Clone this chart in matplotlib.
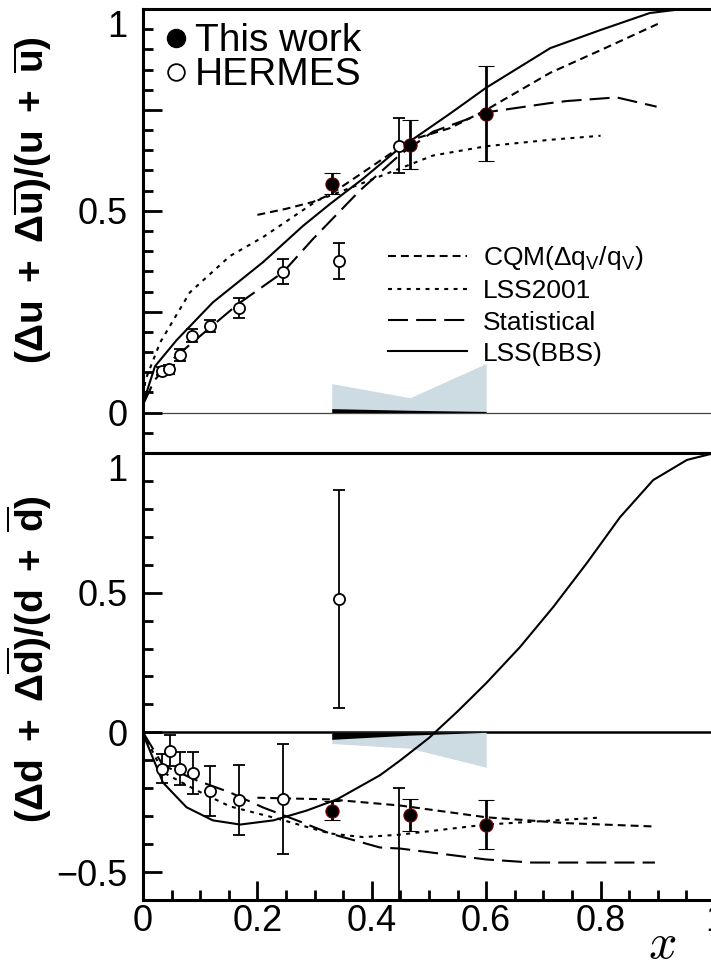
import matplotlib
matplotlib.use("Agg")
import matplotlib.pyplot as plt
from matplotlib.lines import Line2D
from matplotlib.ticker import MultipleLocator, FuncFormatter

plt.rcParams['font.family'] = ['Liberation Sans', 'DejaVu Sans']
plt.rcParams['mathtext.fontset'] = 'custom'
plt.rcParams['mathtext.rm'] = 'Liberation Sans'
plt.rcParams['mathtext.it'] = 'Liberation Sans:italic'
plt.rcParams['mathtext.bf'] = 'Liberation Sans:bold'

# ---------------- data: upper panel  (Δu+Δubar)/(u+ubar) ----------------
this_x = [0.33, 0.467, 0.60]
this_u = [0.567, 0.664, 0.741]
this_u_err = [0.026, 0.060, 0.117]

herm_x = [0.033, 0.046, 0.065, 0.086, 0.117, 0.167, 0.244, 0.342, 0.448]
herm_u = [0.103, 0.107, 0.142, 0.191, 0.215, 0.260, 0.349, 0.376, 0.661]
herm_u_err = [0.010, 0.010, 0.015, 0.016, 0.014, 0.025, 0.031, 0.045, 0.068]

bbs_u_x = [0, 0.004, 0.021, 0.059, 0.122, 0.21, 0.28, 0.327, 0.385, 0.444,
           0.537, 0.6, 0.712, 0.8, 0.886, 0.944, 1.0]
bbs_u_y = [0.02, 0.04, 0.115, 0.18, 0.273, 0.373, 0.463, 0.517, 0.58, 0.65,
           0.741, 0.805, 0.903, 0.948, 0.99, 1.0, 1.0]
cqm_u_x = [0.2, 0.25, 0.297, 0.327, 0.4, 0.467, 0.537, 0.6, 0.712, 0.8, 0.9]
cqm_u_y = [0.49, 0.505, 0.522, 0.54, 0.61, 0.675, 0.705, 0.75, 0.842, 0.898, 0.963]
lss_u_x = [0, 0.004, 0.03, 0.082, 0.152, 0.21, 0.304, 0.39, 0.507, 0.6, 0.712, 0.8]
lss_u_y = [0.02, 0.08, 0.174, 0.298, 0.388, 0.435, 0.525, 0.572, 0.637, 0.66, 0.676, 0.686]
stat_u_x = [0, 0.02, 0.05, 0.1, 0.167, 0.245, 0.297, 0.379, 0.45, 0.507,
            0.6, 0.712, 0.741, 0.828, 0.898]
stat_u_y = [0.02, 0.08, 0.13, 0.19, 0.27, 0.348, 0.43, 0.55, 0.64, 0.696,
            0.744, 0.767, 0.772, 0.781, 0.758]

band_x = [0.33, 0.467, 0.60]
band_u_light = [0.072, 0.037, 0.122]
band_u_dark = [0.010, 0.006, 0.003]

# ---------------- data: lower panel  (Δd+Δdbar)/(d+dbar) ----------------
this_d = [-0.28, -0.297, -0.33]
this_d_err = [0.033, 0.057, 0.088]

herm_d_x = [0.033, 0.047, 0.065, 0.087, 0.118, 0.167, 0.244, 0.342, 0.448]
herm_d = [-0.13, -0.065, -0.13, -0.146, -0.21, -0.241, -0.238, 0.477, -0.78]
herm_d_err = [0.052, 0.056, 0.06, 0.075, 0.09, 0.125, 0.197, 0.39, 0.58]

bbs_d_x = [0, 0.003, 0.035, 0.076, 0.122, 0.17, 0.228, 0.286, 0.339, 0.414,
           0.45, 0.5, 0.55, 0.6, 0.659, 0.717, 0.776, 0.834, 0.892, 0.951, 0.99, 1.0]
bbs_d_y = [0, -0.02, -0.18, -0.268, -0.315, -0.33, -0.315, -0.28, -0.24, -0.154,
           -0.1, -0.02, 0.075, 0.176, 0.305, 0.448, 0.606, 0.77, 0.903, 0.975, 0.995, 1.0]
cqm_d_x = [0.2, 0.327, 0.45, 0.6, 0.74, 0.895]
cqm_d_y = [-0.234, -0.24, -0.262, -0.304, -0.325, -0.337]
lss_d_x = [0, 0.035, 0.094, 0.152, 0.234, 0.327, 0.385, 0.45, 0.6, 0.8]
lss_d_y = [0, -0.143, -0.208, -0.265, -0.308, -0.362, -0.375, -0.366, -0.33, -0.305]
stat_d_x = [0, 0.035, 0.094, 0.152, 0.21, 0.269, 0.327, 0.414, 0.45, 0.6, 0.68, 0.895]
stat_d_y = [0, -0.118, -0.172, -0.215, -0.269, -0.315, -0.362, -0.412, -0.416,
            -0.455, -0.466, -0.466]

band_d_light = [-0.04, -0.057, -0.125]
band_d_dark = [-0.025, -0.01, 0.0]

labels = ['CQM($\\Delta$q$_\\mathrm{V}$/q$_\\mathrm{V}$)', 'LSS2001', 'Statistical', 'LSS(BBS)']

# line styles (dash lengths scaled by linewidth)
LW = 1.5
st_cqm = dict(color='k', lw=LW, dashes=[3.8, 2.4])
st_lss = dict(color='k', lw=LW, dashes=[1.9, 2.6])
st_stat = dict(color='k', lw=LW, dashes=[9.6, 3.9])
st_bbs = dict(color='k', lw=LW, ls='-')

fig = plt.figure(figsize=(7.11, 9.67), dpi=100)
ax1 = fig.add_axes([0.2011, 0.5315, 0.8045, 0.4592])
ax2 = fig.add_axes([0.2011, 0.0693, 0.8045, 0.4623])


def yfmt(v, pos):
    # labels only on multiples of 0.5; the top "1" is placed by hand below
    if abs(v * 2 - round(v * 2)) > 1e-6 or abs(v - 1.0) < 1e-6:
        return ''
    s = '%g' % round(v, 3)
    return s.replace('-', '\u2212')


for ax in (ax1, ax2):
    ax.set_xlim(0, 1)
    for s in ax.spines.values():
        s.set_linewidth(2.2)
    ax.xaxis.set_major_locator(MultipleLocator(0.2))
    ax.xaxis.set_minor_locator(MultipleLocator(0.05))
    ax.xaxis.set_major_formatter(FuncFormatter(lambda v, p: '%g' % round(v, 2)))
    ax.yaxis.set_major_formatter(FuncFormatter(yfmt))
    ax.tick_params(which='both', direction='in', top=False, right=False, width=2)
    ax.tick_params(which='major', length=14, labelsize=26)
    ax.tick_params(which='minor', length=7)
    ax.tick_params(axis='y', pad=11)
    ax.tick_params(axis='x', pad=3)
    # "1" sits just under the top spine, as in the original
    ax.annotate('1', xy=(0, 1), xycoords='axes fraction', xytext=(-11, -1),
                textcoords='offset points', ha='right', va='top', fontsize=26)

# ---------------- upper panel ----------------
ax1.set_ylim(-0.1, 1.0)
ax1.yaxis.set_major_locator(MultipleLocator(0.25))
ax1.yaxis.set_minor_locator(MultipleLocator(0.05))
ax1.tick_params(axis='x', which='both', bottom=False, labelbottom=False)
ax1.axhline(0, color='#444444', lw=0.9, zorder=1)
ax1.fill_between(band_x, 0, band_u_light, color='#cddbe2', lw=0, zorder=1)
ax1.fill_between(band_x, 0, band_u_dark, color='k', lw=0, zorder=2)

ax1.plot(cqm_u_x, cqm_u_y, **st_cqm)
ax1.plot(lss_u_x, lss_u_y, **st_lss)
ax1.plot(stat_u_x, stat_u_y, **st_stat)
ax1.plot(bbs_u_x, bbs_u_y, **st_bbs)

ax1.errorbar(herm_x, herm_u, yerr=herm_u_err, fmt='o', ms=8, mfc='white', mec='k',
             mew=1.3, ecolor='k', elinewidth=1.3, capsize=4, capthick=1.3, zorder=5)
ax1.errorbar(this_x, this_u, yerr=this_u_err, fmt='o', ms=9.5, mfc='k', mec='#5a0000',
             mew=0.8, ecolor='k', elinewidth=2, capsize=6, capthick=2, zorder=6)

ax1.set_ylabel(r'$\mathbf{(\Delta u\ +\ \Delta\overline{u})/(u\ +\ \overline{u})}$', fontsize=28)
ax1.yaxis.set_label_coords(-0.155, 0.57)

handles = [Line2D([], [], **st_cqm), Line2D([], [], **st_lss),
           Line2D([], [], **st_stat), Line2D([], [], **st_bbs)]
leg2 = ax1.legend(handles, labels, loc='upper left', bbox_to_anchor=(0.428, 0.47),
                  frameon=False, fontsize=19, handlelength=3.0, handletextpad=0.6,
                  labelspacing=0.27, borderpad=0, borderaxespad=0)
ax1.add_artist(leg2)
mk = [Line2D([], [], marker='o', ls='none', ms=13, mfc='k', mec='k'),
      Line2D([], [], marker='o', ls='none', ms=12, mfc='white', mec='k', mew=1.3)]
ax1.legend(mk, ['This work', 'HERMES'], loc='upper left', bbox_to_anchor=(0.04, 0.968),
           frameon=False, fontsize=28, handlelength=0.5, handletextpad=0.25,
           labelspacing=-0.05, borderpad=0, borderaxespad=0, numpoints=1)

# ---------------- lower panel ----------------
ax2.set_ylim(-0.6, 1.0)
ax2.yaxis.set_major_locator(MultipleLocator(0.5))
ax2.yaxis.set_minor_locator(MultipleLocator(0.1))
ax2.axhline(0, color='k', lw=1.8, zorder=1)
ax2.fill_between(band_x, 0, band_d_light, color='#cddbe2', lw=0, zorder=1)
ax2.fill_between(band_x, 0, band_d_dark, color='k', lw=0, zorder=2)

ax2.plot(cqm_d_x, cqm_d_y, **st_cqm)
ax2.plot(lss_d_x, lss_d_y, **st_lss)
ax2.plot(stat_d_x, stat_d_y, **st_stat)
ax2.plot(bbs_d_x, bbs_d_y, **st_bbs)

ax2.errorbar(herm_d_x, herm_d, yerr=herm_d_err, fmt='o', ms=8, mfc='white', mec='k',
             mew=1.3, ecolor='k', elinewidth=1.3, capsize=4, capthick=1.3, zorder=5)
ax2.errorbar(this_x, this_d, yerr=this_d_err, fmt='o', ms=9.5, mfc='k', mec='#7a0000',
             mew=0.8, ecolor='k', elinewidth=2, capsize=6, capthick=2, zorder=6)

ax2.set_ylabel(r'$\mathbf{(\Delta d\ +\ \Delta\overline{d})/(d\ +\ \overline{d})}$', fontsize=28)
ax2.yaxis.set_label_coords(-0.155, 0.54)

fig.text(662 / 711, 1 - 945 / 967, '$x$', math_fontfamily='cm', fontsize=36,
         ha='center', va='center')

fig.savefig('out.png', dpi=100)
